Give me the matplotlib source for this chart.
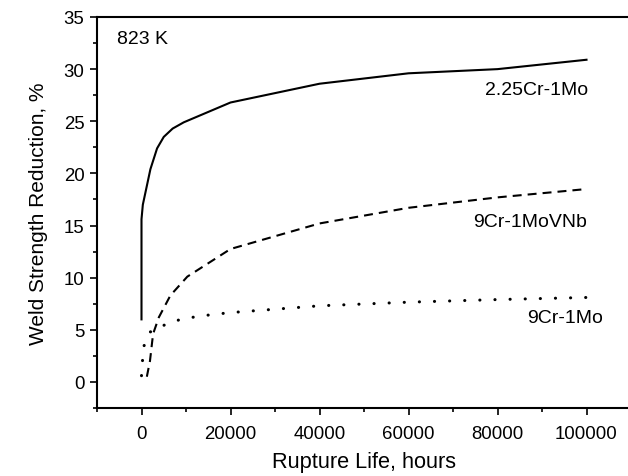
import matplotlib

matplotlib.use("Agg")

import matplotlib.pyplot as plt
from matplotlib.ticker import MultipleLocator

plt.rcParams["font.family"] = ["Liberation Sans", "DejaVu Sans"]

# rupture life (hours) vs weld strength reduction (%) at 823 K
cr225_hours = [0, 0, 300, 900, 2000, 3500, 5000, 7000, 9500, 20000, 40000, 60000, 80000, 100000]
cr225_reduction = [6.0, 15.6, 17.0, 18.2, 20.4, 22.4, 23.5, 24.3, 24.9, 26.8, 28.6, 29.6, 30.0, 30.9]

vnb_hours = [1200, 1900, 2600, 3900, 6500, 10300, 20000, 40000, 60000, 80000, 100000]
vnb_reduction = [0.5, 2.0, 4.6, 6.2, 8.3, 10.1, 12.75, 15.2, 16.7, 17.7, 18.5]

mo_hours = [0, 200, 500, 2000, 5600, 8800, 12200, 15700, 20000, 40000, 60000, 80000, 100000]
mo_reduction = [0.6, 1.9, 3.4, 4.8, 5.55, 6.0, 6.25, 6.45, 6.65, 7.3, 7.65, 7.9, 8.1]

fig = plt.figure(figsize=(6.28, 4.77), dpi=100)
ax = fig.add_axes([97 / 628, 68 / 477, 534 / 628, 391 / 477])

ax.plot(cr225_hours, cr225_reduction, color="black", linewidth=1.5)
ax.plot(vnb_hours, vnb_reduction, color="black", linewidth=1.5,
        linestyle=(0, (4.3, 2.9)))
ax.plot(mo_hours, mo_reduction, color="black", linewidth=2.2,
        linestyle=(0, (0.05, 4.9)), dash_capstyle="round")

ax.set_xlim(-10000, 110000)
ax.set_ylim(-2.5, 35)
ax.xaxis.set_major_locator(MultipleLocator(20000))
ax.xaxis.set_minor_locator(MultipleLocator(10000))
ax.yaxis.set_major_locator(MultipleLocator(5))
ax.yaxis.set_minor_locator(MultipleLocator(2.5))
ax.tick_params(which="major", direction="out", length=5, width=1.2, labelsize=13.4)
ax.tick_params(which="minor", direction="out", length=3, width=1.2)
ax.tick_params(axis="x", which="major", pad=7.5)
ax.tick_params(axis="y", which="major", pad=4)
ax.spines["right"].set_visible(False)
for spine in ax.spines.values():
    spine.set_linewidth(1.5)

ax.set_xlabel("Rupture Life, hours", fontsize=15.7, labelpad=6)
ax.set_ylabel("Weld Strength Reduction, %", fontsize=15, labelpad=11)

ax.text(-5600, 32.9, "823 K", fontsize=14, va="center", ha="left")
ax.text(100400, 28.0, "2.25Cr-1Mo", fontsize=14, va="center", ha="right")
ax.text(100000, 15.35, "9Cr-1MoVNb", fontsize=14, va="center", ha="right")
ax.text(103600, 6.2, "9Cr-1Mo", fontsize=14, va="center", ha="right")

fig.savefig("out.png", dpi=100)
